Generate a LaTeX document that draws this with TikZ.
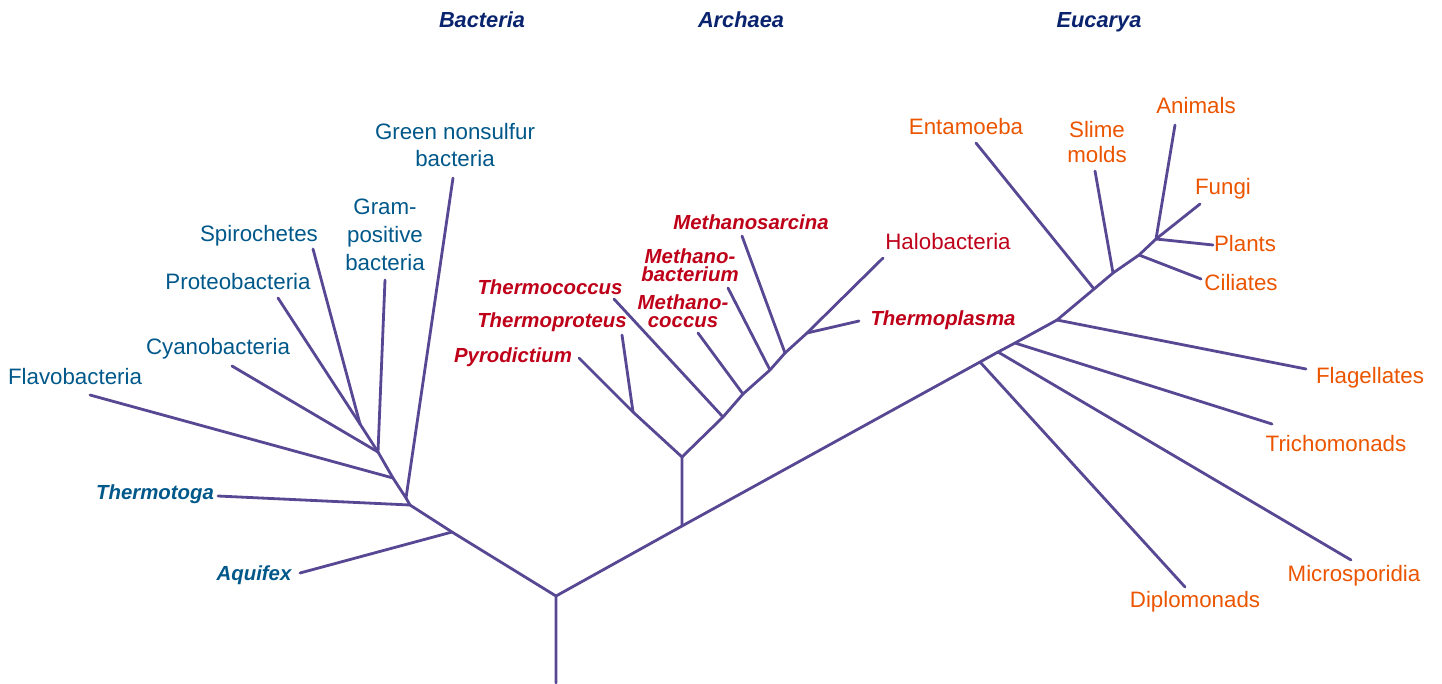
\documentclass[tikz,border=0pt]{standalone}
\usepackage{fontspec}
\setmainfont{Liberation Sans}
\definecolor{branchcol}{RGB}{88,72,148}
\definecolor{bactcol}{RGB}{0,88,138}
\definecolor{archcol}{RGB}{190,0,25}
\definecolor{eukcol}{RGB}{235,85,0}
\definecolor{domcol}{RGB}{10,35,110}
\begin{document}
\begin{tikzpicture}[x=0.02cm,y=-0.02cm,
    branch/.style={draw=branchcol,line width=1.6pt,line cap=round,line join=round},
    lab/.style={inner sep=0pt,align=center,font=\fontsize{12.7}{15.9}\selectfont},
    itlab/.style={inner sep=0pt,align=center,font=\fontsize{11.6}{10}\selectfont\bfseries\itshape},
    domlab/.style={inner sep=0pt,text=domcol,font=\fontsize{12.4}{14}\selectfont\bfseries\itshape}]
        \useasboundingbox (0,0) rectangle (1442,683);
        \node[domlab] (hbac) at (482,20) {Bacteria};
        \node[domlab] (harc) at (741,20) {Archaea};
        \node[domlab] (heuk) at (1099,22) {Eucarya};

        \node[lab,text=bactcol] (green) at (455,145) {Green nonsulfur\\bacteria};
        \node[lab,text=bactcol] (gram) at (385,235) {Gram-\\positive\\bacteria};
        \node[lab,text=bactcol] (spiro) at (259,236) {Spirochetes};
        \node[lab,text=bactcol] (proteo) at (238,282) {Proteobacteria};
        \node[lab,text=bactcol] (cyano) at (218,349) {Cyanobacteria};
        \node[lab,text=bactcol] (flavo) at (75,377) {Flavobacteria};
        \node[itlab,text=bactcol] (tmtoga) at (155,494) {Thermotoga};
        \node[itlab,text=bactcol] (aquifex) at (254,575) {Aquifex};

        \node[itlab,text=archcol] (msarc) at (751,222) {Methanosarcina};
        \node[itlab,text=archcol] (mbact) at (690,265) {Methano-\\bacterium};
        \node[itlab,text=archcol] (tcocc) at (550,287) {Thermococcus};
        \node[itlab,text=archcol] (mcocc) at (683,311) {Methano-\\coccus};
        \node[itlab,text=archcol] (tprot) at (552,322) {Thermoproteus};
        \node[itlab,text=archcol] (pyro) at (513,357) {Pyrodictium};
        \node[lab,text=archcol] (halo) at (948,242) {Halobacteria};
        \node[itlab,text=archcol] (tplas) at (943,320) {Thermoplasma};

        \node[lab,text=eukcol] (entam) at (966,127) {Entamoeba};
        \node[lab,text=eukcol,font=\fontsize{12.7}{14.2}\selectfont] (slime) at (1097,142) {Slime\\molds};
        \node[lab,text=eukcol] (animals) at (1196,106) {Animals};
        \node[lab,text=eukcol] (fungi) at (1223,189) {Fungi};
        \node[lab,text=eukcol] (plants) at (1245,244) {Plants};
        \node[lab,text=eukcol] (ciliates) at (1241,283) {Ciliates};
        \node[lab,text=eukcol] (flagel) at (1370,378) {Flagellates};
        \node[lab,text=eukcol] (tricho) at (1336,444) {Trichomonads};
        \node[lab,text=eukcol] (micro) at (1354,576) {Microsporidia};
        \node[lab,text=eukcol] (diplo) at (1195,602) {Diplomonads};

        \coordinate (base) at (556,683);
        \coordinate (root) at (556,596);
        \coordinate (j-aq) at (452,532);
        \coordinate (j-bac) at (410,505);
        \coordinate (j-green) at (406,498);
        \coordinate (j-flavo) at (393,478);
        \coordinate (j-cyano) at (378,452);
        \coordinate (j-spiro) at (360,424);
        \coordinate (t-aq) at (300,573);
        \coordinate (t-tmtoga) at (218,496);
        \coordinate (t-green) at (453,178);
        \coordinate (t-flavo) at (90,395);
        \coordinate (t-cyano) at (232,366);
        \coordinate (t-gram) at (385,280);
        \coordinate (t-proteo) at (278,298);
        \coordinate (t-spiro) at (313,249);

        \coordinate (j-arc) at (682,526);
        \coordinate (j-arc2) at (682,457);
        \coordinate (j-pyro) at (633,412);
        \coordinate (j-tcocc) at (723,417);
        \coordinate (j-mcocc) at (743,394);
        \coordinate (j-mbact) at (770,370);
        \coordinate (j-msarc) at (785,353);
        \coordinate (j-tplas) at (807,333);
        \coordinate (t-pyro) at (579,358);
        \coordinate (t-tprot) at (622,335);
        \coordinate (t-tcocc) at (614,299);
        \coordinate (t-mcocc) at (698,333);
        \coordinate (t-mbact) at (728,288);
        \coordinate (t-msarc) at (742,236);
        \coordinate (t-tplas) at (859,321);
        \coordinate (t-halo) at (883,258);

        \coordinate (j-diplo) at (980,362);
        \coordinate (j-micro) at (998,352);
        \coordinate (j-tricho) at (1015,343);
        \coordinate (j-flagel) at (1057,320);
        \coordinate (j-entam) at (1094,289);
        \coordinate (j-slime) at (1113,273);
        \coordinate (j-cil) at (1139,255);
        \coordinate (j-top) at (1156,239);
        \coordinate (t-diplo) at (1185,587);
        \coordinate (t-micro) at (1351,560);
        \coordinate (t-tricho) at (1272,424);
        \coordinate (t-flagel) at (1306,369);
        \coordinate (t-entam) at (976,143);
        \coordinate (t-slime) at (1095,171);
        \coordinate (t-cil) at (1201,279);
        \coordinate (t-animals) at (1175,125);
        \coordinate (t-fungi) at (1200,204);
        \coordinate (t-plants) at (1213,245);

        \draw[branch] (base) -- (root) -- (j-aq) -- (j-bac) -- (j-green) -- (j-flavo) -- (j-cyano) -- (j-spiro);
        \draw[branch] (j-aq) -- (t-aq);
        \draw[branch] (j-bac) -- (t-tmtoga);
        \draw[branch] (j-green) -- (t-green);
        \draw[branch] (j-flavo) -- (t-flavo);
        \draw[branch] (j-cyano) -- (t-cyano);
        \draw[branch] (j-cyano) -- (t-gram);
        \draw[branch] (j-spiro) -- (t-proteo);
        \draw[branch] (j-spiro) -- (t-spiro);

        \draw[branch] (root) -- (j-arc) -- (j-arc2) -- (j-pyro) -- (t-pyro);
        \draw[branch] (j-pyro) -- (t-tprot);
        \draw[branch] (j-arc2) -- (j-tcocc) -- (j-mcocc) -- (j-mbact) -- (j-msarc) -- (j-tplas) -- (t-halo);
        \draw[branch] (j-tcocc) -- (t-tcocc);
        \draw[branch] (j-mcocc) -- (t-mcocc);
        \draw[branch] (j-mbact) -- (t-mbact);
        \draw[branch] (j-msarc) -- (t-msarc);
        \draw[branch] (j-tplas) -- (t-tplas);

        \draw[branch] (j-arc) -- (j-diplo) -- (j-micro) -- (j-tricho) -- (j-flagel) -- (j-entam) -- (j-slime) -- (j-cil) -- (j-top);
        \draw[branch] (j-diplo) -- (t-diplo);
        \draw[branch] (j-micro) -- (t-micro);
        \draw[branch] (j-tricho) -- (t-tricho);
        \draw[branch] (j-flagel) -- (t-flagel);
        \draw[branch] (j-entam) -- (t-entam);
        \draw[branch] (j-slime) -- (t-slime);
        \draw[branch] (j-cil) -- (t-cil);
        \draw[branch] (j-top) -- (t-animals);
        \draw[branch] (j-top) -- (t-fungi);
        \draw[branch] (j-top) -- (t-plants);
\end{tikzpicture}
\end{document}
